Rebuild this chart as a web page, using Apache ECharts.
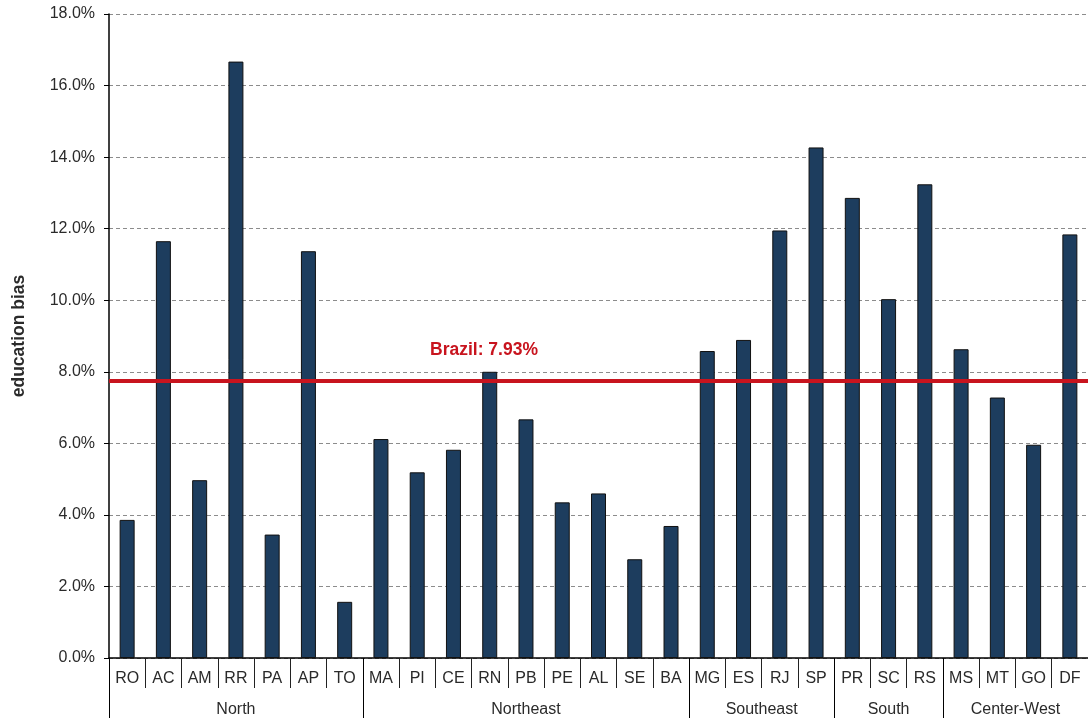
<!DOCTYPE html>
<html>
<head>
<meta charset="utf-8">
<script src="https://cdn.jsdelivr.net/npm/echarts@6/dist/echarts.min.js"></script>
<style>
html,body{margin:0;padding:0;background:#fff;}
#chart{width:1088px;height:718px;}
</style>
</head>
<body>
<div id="chart"></div>
<script>
// ---- data ----
const states = ['RO','AC','AM','RR','PA','AP','TO','MA','PI','CE','RN','PB','PE','AL','SE','BA','MG','ES','RJ','SP','PR','SC','RS','MS','MT','GO','DF'];
const values = [3.86,11.65,4.97,16.67,3.45,11.37,1.57,6.12,5.19,5.82,8.00,6.67,4.35,4.60,2.76,3.69,8.58,8.89,11.95,14.27,12.86,10.03,13.24,8.63,7.28,5.96,11.84];
const regionNames = ['North','Northeast','Southeast','South','Center-West'];
const regionSizes = [7,9,4,3,4];
const brazilLine = 7.74;
const brazilLabel = 'Brazil: 7.93%';
const yTicks = {min:0, max:18, interval:2};

// group axis built on half-category points
const halfPoints = [];
for (let i = 0; i <= states.length * 2; i++) halfPoints.push(String(i));
const boundaryIdx = new Set([0]);
const centerIdx = {};
let acc = 0;
regionNames.forEach((r, k) => {
  const start = acc;
  acc += regionSizes[k];
  boundaryIdx.add(acc * 2);
  centerIdx[start + acc] = r;
});

const FONT = 'Arial, "Liberation Sans", sans-serif';
const TXT = '#2a2a2a';
const chart = echarts.init(document.getElementById('chart'));
chart.setOption({
  animation: false,
  grid: {left: 109, right: 0, top: 14, bottom: 60, outerBoundsMode: 'none', containLabel: false},
  xAxis: [
    {
      type: 'category',
      data: states,
      position: 'bottom',
      axisLine: {show: true, lineStyle: {color: '#000', width: 1.5}},
      axisTick: {show: true, interval: 0, length: 30, lineStyle: {color: '#222', width: 1}},
      axisLabel: {interval: 0, margin: 13, fontSize: 16, color: TXT, fontFamily: FONT}
    },
    {
      type: 'category',
      data: halfPoints,
      boundaryGap: false,
      position: 'bottom',
      axisLine: {show: false},
      axisTick: {show: true, length: 60, interval: (i) => boundaryIdx.has(i), lineStyle: {color: '#000', width: 1}},
      axisLabel: {
        interval: (i) => centerIdx[i] !== undefined,
        formatter: (v, i) => centerIdx[i] || '',
        margin: 44, fontSize: 16, color: TXT, fontFamily: FONT
      }
    }
  ],
  yAxis: {
    type: 'value',
    min: yTicks.min, max: yTicks.max, interval: yTicks.interval,
    name: 'education bias',
    nameLocation: 'middle',
    nameGap: 81,
    nameRotate: 90,
    nameTextStyle: {fontSize: 17.5, fontWeight: 'bold', color: TXT, fontFamily: FONT},
    axisLine: {show: true, lineStyle: {color: '#000', width: 1.5}},
    axisTick: {show: true, length: 5, lineStyle: {color: '#000'}},
    axisLabel: {formatter: (v) => v.toFixed(1) + '%', fontSize: 16, color: TXT, margin: 14, fontFamily: FONT, padding: [4, 0, 0, 0]},
    splitLine: {show: true, lineStyle: {color: '#8c8c8c', type: [4, 3], width: 1}}
  },
  series: [{
    type: 'bar',
    xAxisIndex: 0,
    data: values,
    barWidth: 15,
    itemStyle: {color: '#1d3d5e', borderColor: '#111', borderWidth: 1},
    markLine: {
      silent: true,
      symbol: 'none',
      data: [{yAxis: brazilLine}],
      lineStyle: {color: '#c8141e', width: 4, type: 'solid'},
      label: {
        show: true,
        position: 'insideStartTop',
        formatter: brazilLabel,
        distance: [321, 22],
        color: '#c8141e',
        fontSize: 17.5,
        fontWeight: 'bold',
        fontFamily: FONT
      }
    }
  }]
});
</script>
</body>
</html>
